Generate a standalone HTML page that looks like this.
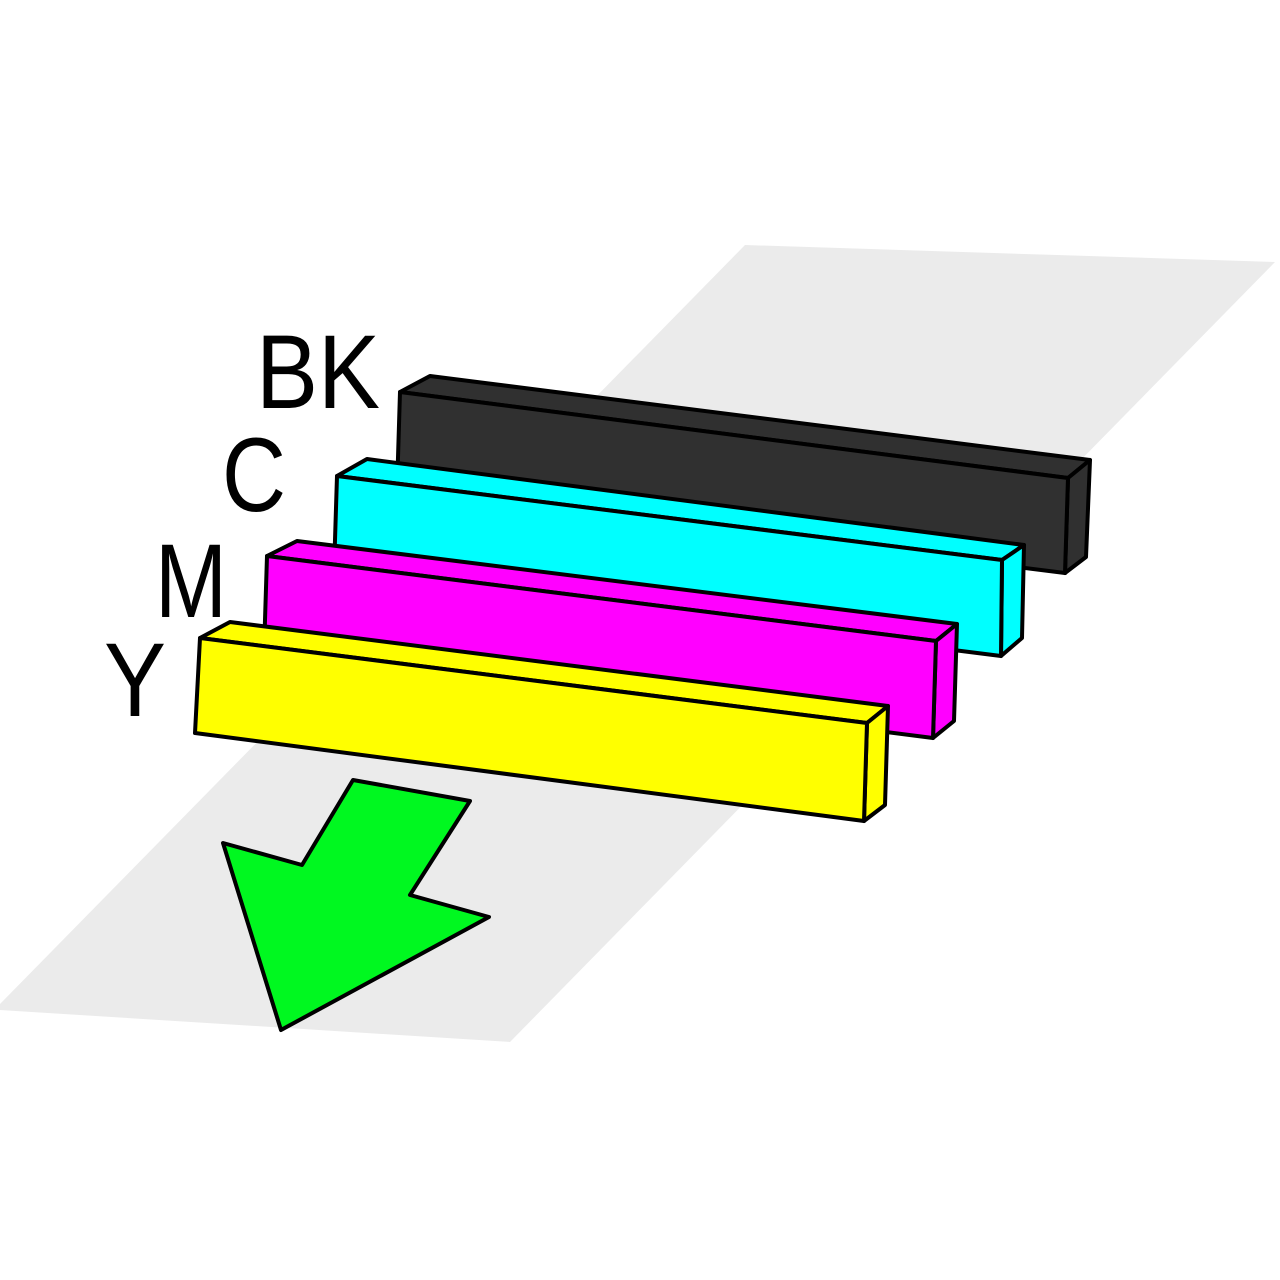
<!DOCTYPE html>
<html><head><meta charset="utf-8"><style>
html,body{margin:0;padding:0;background:#fff;}
svg{display:block;}
text{font-family:"Liberation Sans",sans-serif;fill:#000;}
</style></head><body>
<svg width="1280" height="1280" viewBox="0 0 1280 1280" xmlns="http://www.w3.org/2000/svg">
<polygon points="745,245 1275,262 510,1042 0,1010 0,1004" fill="#ebebeb"/>
<g stroke="#000" stroke-width="4" stroke-linejoin="round">
<polygon points="400,392 430,376 1090,460 1068,478" fill="#303030"/>
<polygon points="1068,478 1090,460 1086,557 1065,573" fill="#303030"/>
<polygon points="400,392 1068,478 1065,573 397,490" fill="#303030"/>
<polygon points="337,476 367,459 1024,545 1002,560" fill="#00ffff"/>
<polygon points="1002,560 1024,545 1022,638 1001,656" fill="#00ffff"/>
<polygon points="337,476 1002,560 1001,656 334,572" fill="#00ffff"/>
<polygon points="267,556 297,541 957,624 936,641" fill="#ff00ff"/>
<polygon points="936,641 957,624 954,721 933,738" fill="#ff00ff"/>
<polygon points="267,556 936,641 933,738 264,652" fill="#ff00ff"/>
<polygon points="200,638 230,622 888,706 867,723" fill="#ffff00"/>
<polygon points="867,723 888,706 885,805 864,821" fill="#ffff00"/>
<polygon points="200,638 867,723 864,821 195,733" fill="#ffff00"/>
<polygon points="353,780 470,801 410,895 489,917 281,1030 223,843 302,865" fill="#00f820"/>
</g>
<text x="256" y="408" font-size="105" textLength="124" lengthAdjust="spacingAndGlyphs">BK</text>
<text x="222" y="511" font-size="105" textLength="64" lengthAdjust="spacingAndGlyphs">C</text>
<text x="155" y="617" font-size="105" textLength="72" lengthAdjust="spacingAndGlyphs">M</text>
<text x="104" y="716" font-size="105" textLength="62" lengthAdjust="spacingAndGlyphs">Y</text>
</svg>
</body></html>
